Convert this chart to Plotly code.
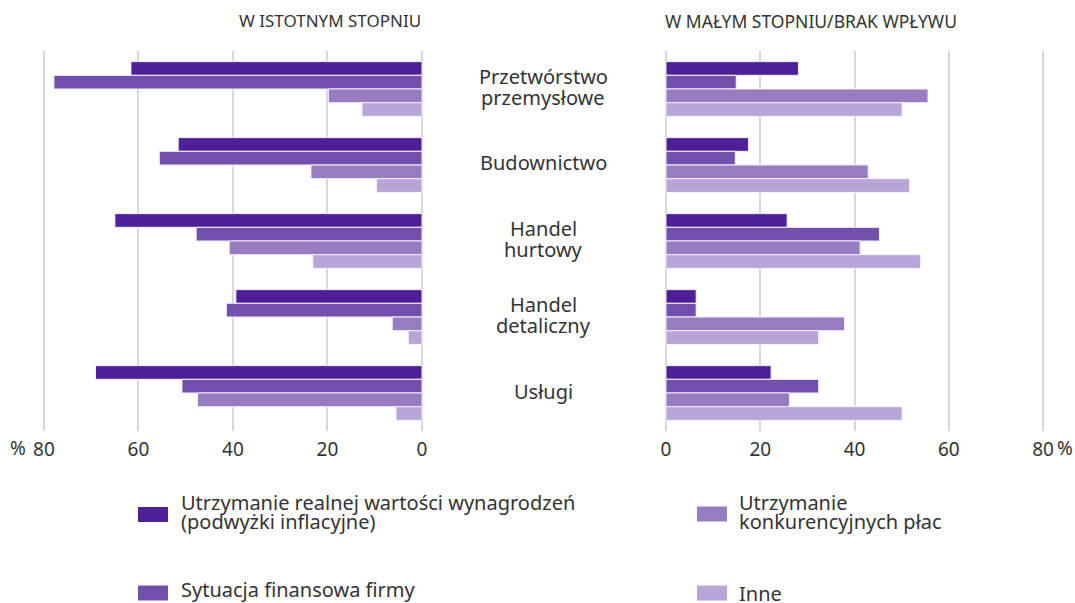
import plotly.graph_objects as go

# ---------------- data ----------------
categories = ["Przetwórstwo<br>przemysłowe", "Budownictwo", "Handel<br>hurtowy",
              "Handel<br>detaliczny", "Usługi"]

series_names = ["Utrzymanie realnej wartości wynagrodzeń<br>(podwyżki inflacyjne)",
                "Sytuacja finansowa firmy",
                "Utrzymanie<br>konkurencyjnych płac",
                "Inne"]

# W istotnym stopniu (left panel)
left_inflacja = [61.6, 51.6, 65.0, 39.4, 69.1]
left_sytuacja = [77.9, 55.6, 47.8, 41.4, 50.8]
left_konkur = [19.8, 23.5, 40.8, 6.3, 47.5]
left_inne = [12.7, 9.6, 23.1, 2.9, 5.5]

# W małym stopniu / brak wpływu (right panel)
right_inflacja = [28.1, 17.5, 25.7, 6.4, 22.3]
right_sytuacja = [14.9, 14.7, 45.3, 6.4, 32.4]
right_konkur = [55.6, 42.9, 41.2, 37.9, 26.2]
right_inne = [50.1, 51.7, 54.0, 32.4, 50.1]

tick_vals = [0, 20, 40, 60, 80]
tick_text = ["0", "20", "40", "60", "80"]

title_left = "W ISTOTNYM STOPNIU"
title_right = "W MAŁYM STOPNIU/BRAK WPŁYWU"

colors = ["#4E1F96", "#734FAC", "#987CC2", "#B9A4D7"]

left_vals = [left_inflacja, left_sytuacja, left_konkur, left_inne]
right_vals = [right_inflacja, right_sytuacja, right_konkur, right_inne]

# ---------------- layout helpers ----------------
W, H = 1075, 603
TXT = "#333333"
FONT = "Noto Sans"


def fx(p):
    return p / W


def fy(p):
    return 1 - p / H


fig = go.Figure()
idx = list(range(len(categories)))
for i in range(4):
    fig.add_trace(go.Bar(
        y=idx, x=left_vals[i], orientation="h", name=series_names[i],
        xaxis="x", yaxis="y", showlegend=False,
        marker=dict(color=colors[i], line=dict(color="#F4F0FA", width=1)),
    ))
    fig.add_trace(go.Bar(
        y=idx, x=right_vals[i], orientation="h", name=series_names[i],
        xaxis="x2", yaxis="y2", showlegend=False,
        marker=dict(color=colors[i], line=dict(color="#F4F0FA", width=1)),
    ))

axis_common = dict(
    tickvals=tick_vals, ticktext=tick_text, showgrid=True, gridcolor="#D8D8D8",
    gridwidth=2, zeroline=False, showline=False, ticks="",
    tickfont=dict(size=19, color=TXT, family=FONT), fixedrange=True,
    ticklabelstandoff=5, automargin=False,
)
y_dom = [fy(431), fy(51)]
PAD = 0.5  # small padding so the 80 gridline is drawn inside the range
lpu = (422 - 44) / 80.0
rpu = (1043 - 666) / 80.0

fig.update_layout(
    width=W, height=H, autosize=False,
    margin=dict(l=0, r=0, t=0, b=0, pad=0),
    paper_bgcolor="white", plot_bgcolor="white",
    font=dict(family=FONT, color=TXT),
    barmode="group", bargap=0.28, bargroupgap=0,
    xaxis=dict(domain=[fx(44 - PAD * lpu), fx(422 + PAD * lpu)], range=[80 + PAD, -PAD],
               anchor="y", **axis_common),
    xaxis2=dict(domain=[fx(666 - PAD * rpu), fx(1043 + PAD * rpu)], range=[-PAD, 80 + PAD],
                anchor="y2", **axis_common),
    yaxis=dict(domain=y_dom, range=[4.5, -0.5], anchor="x", showticklabels=False,
               showgrid=False, zeroline=False, fixedrange=True, automargin=False),
    yaxis2=dict(domain=y_dom, range=[4.5, -0.5], anchor="x2", showticklabels=False,
                showgrid=False, zeroline=False, fixedrange=True, automargin=False),
)

ann = []
# panel titles
ann.append(dict(text=title_left, x=fx(423), y=fy(21), xref="paper", yref="paper",
                xanchor="right", yanchor="middle", showarrow=False,
                font=dict(size=17, color=TXT, family=FONT)))
ann.append(dict(text=title_right, x=fx(663), y=fy(21), xref="paper", yref="paper",
                xanchor="left", yanchor="middle", showarrow=False,
                font=dict(size=17.5, color=TXT, family=FONT)))
# percent signs
ann.append(dict(text="%", x=fx(18), y=fy(448), xref="paper", yref="paper",
                xanchor="center", yanchor="middle", showarrow=False,
                font=dict(size=19, color=TXT, family=FONT)))
ann.append(dict(text="%", x=fx(1065), y=fy(448), xref="paper", yref="paper",
                xanchor="center", yanchor="middle", showarrow=False,
                font=dict(size=19, color=TXT, family=FONT)))

# category labels (centre column)
LS = 21
for i, cat in enumerate(categories):
    lines = cat.split("<br>")
    n = len(lines)
    for k, ln in enumerate(lines):
        shift = -((k - (n - 1) / 2) * LS) + 2
        ann.append(dict(text=ln, x=fx(543), y=i, xref="paper", yref="y",
                        xanchor="center", yanchor="middle", showarrow=False,
                        yshift=shift, font=dict(size=20, color=TXT, family=FONT)))

# legend (custom, 2x2)
leg_pos = [  # swatch x0, swatch y-centre, text x, text line centres
    (138, 514.5, 179, [502, 521]),
    (138, 593, 179, [589]),
    (697, 514, 737, [502, 521]),
    (697, 593, 737, [593]),
]
shapes = []
for i, name in enumerate(series_names):
    sx, sy, tx, ys = leg_pos[i]
    shapes.append(dict(type="rect", xref="paper", yref="paper",
                       x0=fx(sx), x1=fx(sx + 30), y0=fy(sy - 7.5), y1=fy(sy + 7.5),
                       fillcolor=colors[i], line=dict(width=0)))
    lines = name.split("<br>")
    for k, ln in enumerate(lines):
        ann.append(dict(text=ln, x=fx(tx), y=fy(ys[k]), xref="paper", yref="paper",
                        xanchor="left", yanchor="middle", showarrow=False,
                        font=dict(size=20, color=TXT, family=FONT)))

fig.update_layout(annotations=ann, shapes=shapes)
fig.write_html(
    "out.html",
    config={"displayModeBar": False},
    post_script="document.body.style.margin='0';document.body.style.overflow='hidden';",
)
